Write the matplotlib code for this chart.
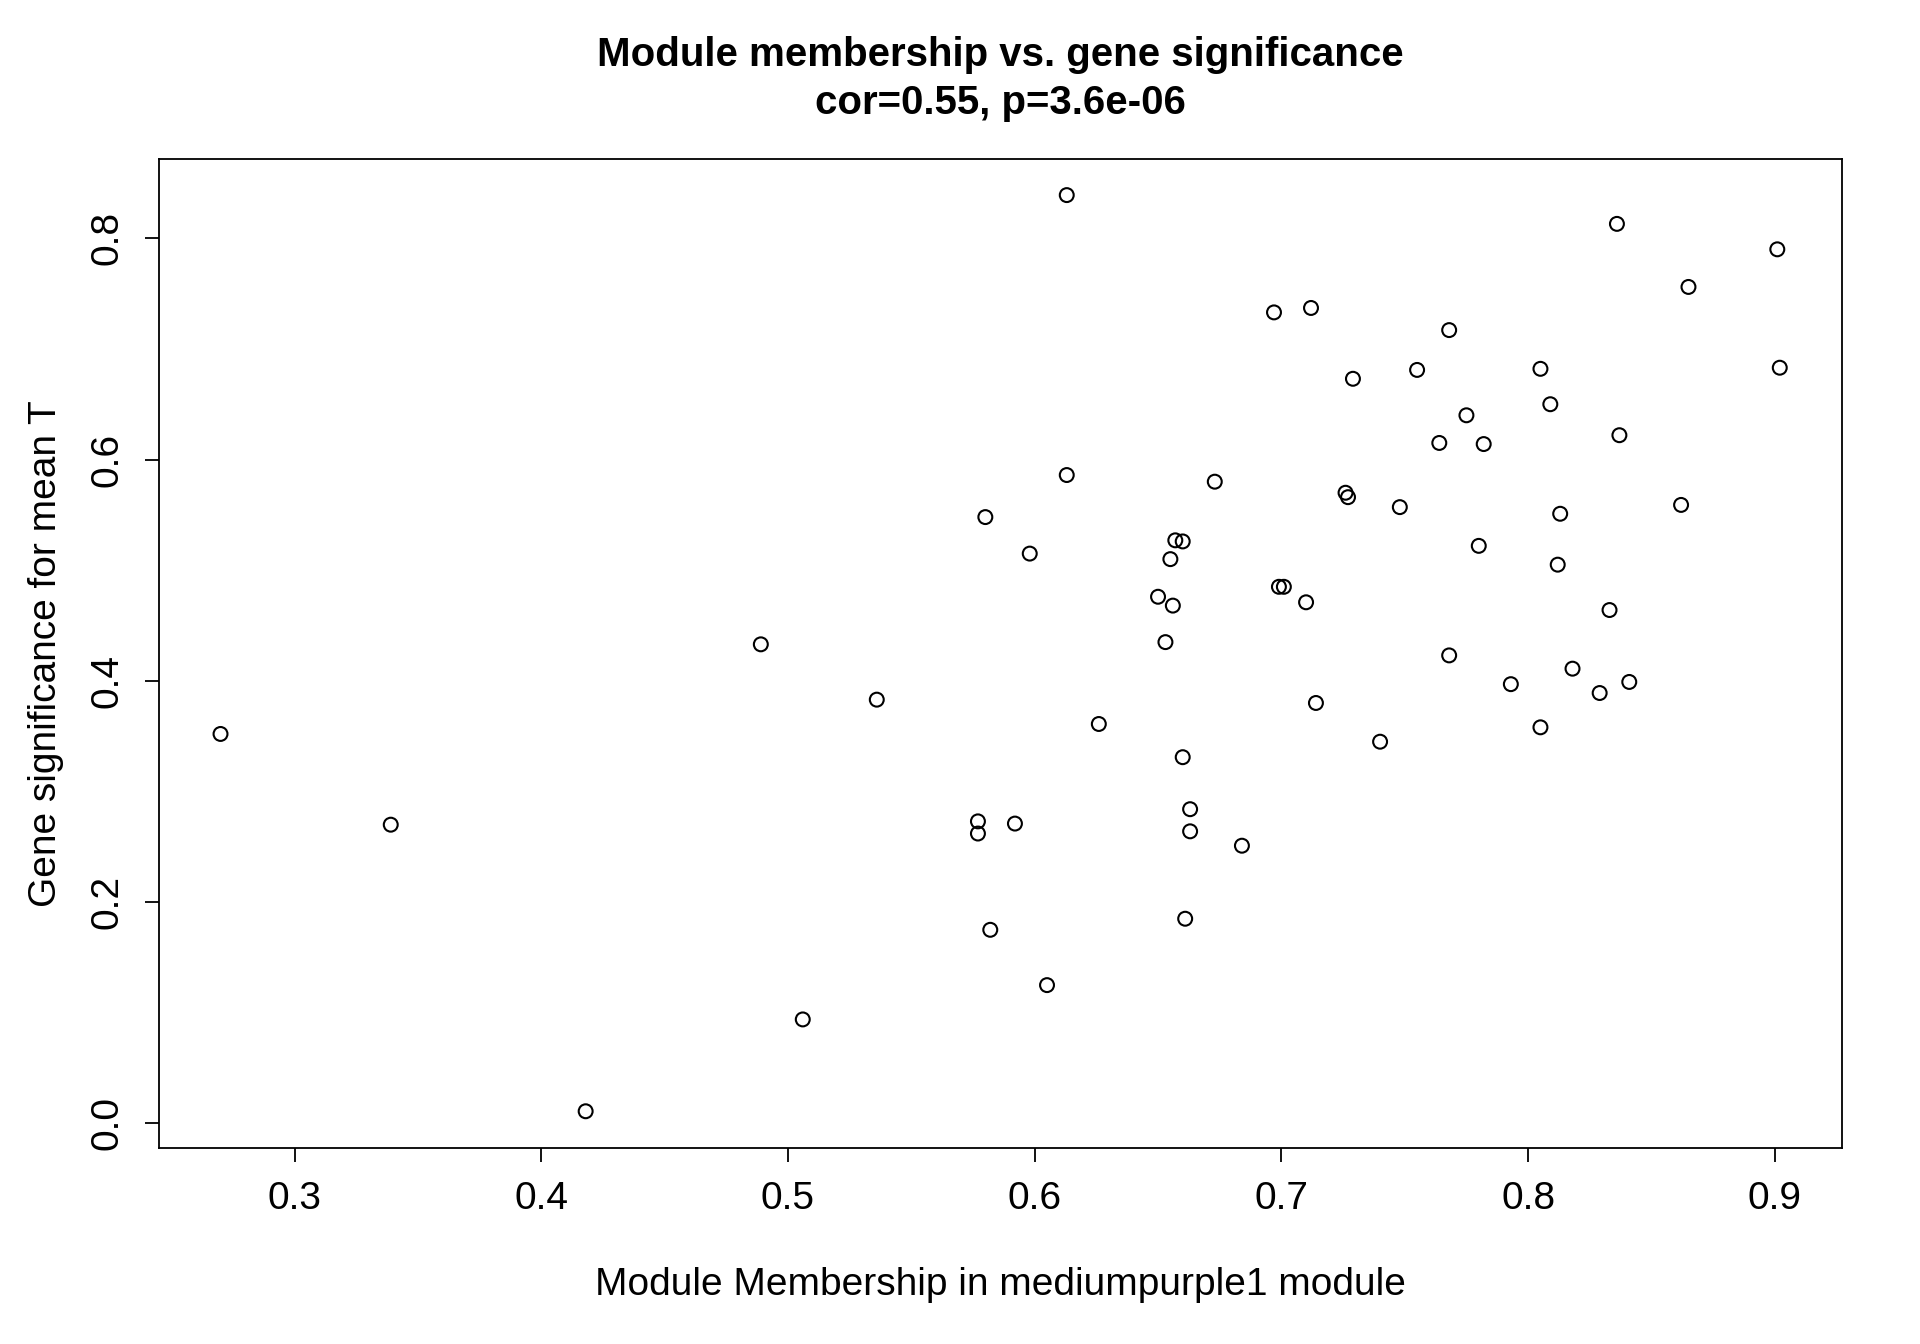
import matplotlib
matplotlib.use("Agg")
import matplotlib.pyplot as plt

plt.rcParams['font.family'] = ['Liberation Sans', 'DejaVu Sans']

# module membership (x) and gene significance (y)
mm = [0.270, 0.339, 0.418, 0.489, 0.506, 0.536, 0.577, 0.577, 0.580, 0.582,
      0.592, 0.598, 0.605, 0.613, 0.613, 0.626, 0.650, 0.653, 0.655, 0.656,
      0.657, 0.660, 0.660, 0.661, 0.663, 0.663, 0.673, 0.684, 0.697, 0.699,
      0.701, 0.710, 0.712, 0.714, 0.726, 0.727, 0.729, 0.740, 0.748, 0.755,
      0.764, 0.768, 0.768, 0.775, 0.780, 0.782, 0.793, 0.805, 0.805, 0.809,
      0.812, 0.813, 0.818, 0.829, 0.833, 0.836, 0.837, 0.841, 0.862, 0.865,
      0.901, 0.902]
gs = [0.352, 0.270, 0.011, 0.433, 0.094, 0.383, 0.273, 0.262, 0.548, 0.175,
      0.271, 0.515, 0.125, 0.839, 0.586, 0.361, 0.476, 0.435, 0.510, 0.468,
      0.527, 0.526, 0.331, 0.185, 0.284, 0.264, 0.580, 0.251, 0.733, 0.485,
      0.485, 0.471, 0.737, 0.380, 0.570, 0.566, 0.673, 0.345, 0.557, 0.681,
      0.615, 0.717, 0.423, 0.640, 0.522, 0.614, 0.397, 0.682, 0.358, 0.650,
      0.505, 0.551, 0.411, 0.389, 0.464, 0.813, 0.622, 0.399, 0.559, 0.756,
      0.790, 0.683]

fig = plt.figure(figsize=(19.2, 13.44), dpi=100)
ax = fig.add_axes([0.0826, 0.146, 0.877, 0.736])
ax.scatter(mm, gs, s=100, facecolors='none', edgecolors='black', linewidths=1.5)
ax.set_xlim(0.2449, 0.9274)
ax.set_ylim(-0.022, 0.872)
ax.set_xticks([0.3, 0.4, 0.5, 0.6, 0.7, 0.8, 0.9])
ax.set_yticks([0.0, 0.2, 0.4, 0.6, 0.8])
ax.tick_params(labelsize=28, length=10, width=1.3, pad=14)
for lab in ax.get_yticklabels():
    lab.set_rotation(90)
    lab.set_va('center')
for s in ax.spines.values():
    s.set_linewidth(1.3)
ax.set_xlabel("Module Membership in mediumpurple1 module", fontsize=28, labelpad=36)
ax.set_ylabel("Gene significance for mean T", fontsize=28, labelpad=18)
ax.set_title("Module membership vs. gene significance\ncor=0.55, p=3.6e-06",
             fontsize=29, fontweight='bold', pad=32, linespacing=1.35)
fig.savefig("out.png")
